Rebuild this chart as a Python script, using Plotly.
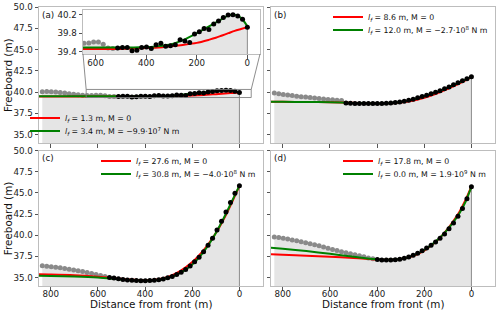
import plotly.graph_objects as go

# ---------------- data ----------------
dist = [0, 19, 38, 57, 76, 95, 114, 133, 152, 171, 190, 209, 228, 247, 266, 285,
        304, 323, 342, 361, 380, 399, 418, 437, 456, 475, 494, 513, 532, 551, 570,
        589, 608, 627, 646, 665, 684, 703, 722, 741, 760, 779, 798, 817, 836]

fb_a = [39.93, 40.10, 40.17, 40.20, 40.19, 40.14, 40.06, 40.00, 39.88, 39.90, 39.83,
        39.78, 39.60, 39.63, 39.66, 39.55, 39.53, 39.52, 39.58, 39.55, 39.47, 39.50,
        39.49, 39.43, 39.42, 39.49, 39.49, 39.48, 39.47, 39.48, 39.56, 39.61, 39.61,
        39.59, 39.58, 39.62, 39.67, 39.73, 39.80, 39.87, 39.94, 39.99, 40.03, 40.05, 40.04]
fb_b = [41.78, 41.55, 41.32, 41.08, 40.85, 40.60, 40.38, 40.15, 39.96, 39.78, 39.62,
        39.47, 39.32, 39.16, 39.03, 38.92, 38.83, 38.76, 38.71, 38.68, 38.66, 38.65,
        38.64, 38.64, 38.64, 38.65, 38.66, 38.68, 38.72, 38.99, 39.03, 39.08, 39.13,
        39.18, 39.25, 39.30, 39.35, 39.40, 39.45, 39.50, 39.58, 39.64, 39.72, 39.80, 39.87]
fb_c = [45.85, 44.95, 43.85, 42.75, 41.65, 40.60, 39.65, 38.80, 38.05, 37.40, 36.85,
        36.35, 35.95, 35.62, 35.35, 35.13, 34.96, 34.84, 34.75, 34.68, 34.64, 34.62,
        34.62, 34.64, 34.67, 34.72, 34.78, 34.86, 34.94, 35.00, 35.12, 35.24, 35.36,
        35.48, 35.59, 35.70, 35.80, 35.90, 35.99, 36.08, 36.15, 36.22, 36.28, 36.34, 36.38]
fb_d = [45.73, 44.30, 43.15, 42.25, 41.45, 40.75, 40.15, 39.65, 39.20, 38.82, 38.48,
        38.15, 37.88, 37.62, 37.42, 37.27, 37.16, 37.10, 37.07, 37.06, 37.08, 37.12,
        37.22, 37.32, 37.44, 37.56, 37.68, 37.80, 37.92, 38.05, 38.18, 38.32, 38.46,
        38.60, 38.74, 38.88, 39.00, 39.12, 39.23, 39.34, 39.44, 39.54, 39.63, 39.72, 39.80]

# furthest distance of the points used in the fit (black), beyond: grey
fit_limit_a, fit_limit_b, fit_limit_c, fit_limit_d = 513, 532, 551, 399

fit_dist = [850, 800, 700, 600, 500, 450, 400, 350, 300, 250, 200, 150, 125, 100, 75, 50, 25, 0]
red_a = [39.46, 39.46, 39.46, 39.46, 39.46, 39.47, 39.48, 39.49, 39.52, 39.55, 39.59,
         39.66, 39.70, 39.75, 39.80, 39.85, 39.89, 39.93]
green_a = [39.49, 39.49, 39.49, 39.49, 39.49, 39.49, 39.50, 39.52, 39.56, 39.66, 39.80,
           39.95, 40.03, 40.11, 40.18, 40.20, 40.13, 39.95]
red_b = [38.84, 38.84, 38.83, 38.80, 38.73, 38.68, 38.66, 38.67, 38.75, 38.97, 39.33,
         39.80, 40.07, 40.36, 40.68, 41.02, 41.38, 41.75]
green_b = [38.84, 38.84, 38.83, 38.80, 38.72, 38.67, 38.65, 38.69, 38.82, 39.10, 39.49,
           39.97, 40.24, 40.52, 40.82, 41.13, 41.46, 41.80]
red_c = [35.38, 35.36, 35.28, 35.10, 34.85, 34.74, 34.68, 34.78, 35.10, 35.78, 36.82,
         38.30, 39.22, 40.25, 41.45, 42.80, 44.28, 45.80]
green_c = [35.20, 35.18, 35.12, 35.00, 34.76, 34.67, 34.63, 34.72, 34.97, 35.55, 36.55,
           38.10, 39.10, 40.25, 41.55, 42.95, 44.40, 45.85]
red_d = [37.74, 37.68, 37.58, 37.45, 37.30, 37.22, 37.14, 37.10, 37.20, 37.52, 38.18,
         39.25, 39.95, 40.78, 41.72, 42.80, 44.15, 45.75]
green_d = [38.53, 38.40, 38.12, 37.80, 37.45, 37.28, 37.15, 37.09, 37.18, 37.55, 38.25,
           39.30, 39.95, 40.72, 41.60, 42.62, 43.95, 45.70]

LF = "<i>l</i><sub><i>f</i></sub>"
red_names = [LF + " = 1.3 m, M = 0", LF + " = 8.6 m, M = 0",
             LF + " = 27.6 m, M = 0", LF + " = 17.8 m, M = 0"]
green_names = [LF + " = 3.4 m, M = \u22129.9\u00b710<sup>7</sup> N m",
               LF + " = 12.0 m, M = \u22122.7\u00b710<sup>8</sup> N m",
               LF + " = 30.8 m, M = \u22124.0\u00b710<sup>8</sup> N m",
               LF + " = 0.0 m, M = 1.9\u00b710<sup>9</sup> N m"]
panel_labels = ["(a)", "(b)", "(c)", "(d)"]
x_title = "Distance from front (m)"
y_title = "Freeboard (m)"

y_ticks = [35, 37.5, 40, 42.5, 45, 47.5, 50]
y_ticktext = ["35.0", "37.5", "40.0", "42.5", "45.0", "47.5", "50.0"]
x_ticks = [800, 600, 400, 200, 0]
inset_yticks = [39.4, 39.8, 40.2]
inset_yticktext = ["39.4", "39.8", "40.2"]
inset_xticks = [600, 400, 200, 0]

Y_RANGE = [34, 50]
X_RANGE = [850, -100]
INSET_X = [650, -50]
INSET_Y = [39.35, 40.3]

# ---------------- figure ----------------
FONT = "DejaVu Sans"
RED = "#ff0000"
GREEN = "#008000"
fig = go.Figure()


def add_panel(xa, ya, fb, limit, red, green, rname, gname, leg_r, leg_g, show_legend=True):
    fig.add_trace(go.Scatter(x=dist, y=fb, mode="lines", line=dict(width=0),
                             fill="tozeroy", fillcolor="#e5e5e5", hoverinfo="skip",
                             showlegend=False, xaxis=xa, yaxis=ya))
    fig.add_trace(go.Scatter(x=[dist[0], dist[0]], y=[fb[0], Y_RANGE[0] - 5], mode="lines",
                             line=dict(color="#8c8c8c", width=1), showlegend=False,
                             hoverinfo="skip", xaxis=xa, yaxis=ya))
    gx = [d for d in dist if d > limit]
    gy = [v for d, v in zip(dist, fb) if d > limit]
    bx = [d for d in dist if d <= limit]
    by = [v for d, v in zip(dist, fb) if d <= limit]
    fig.add_trace(go.Scatter(x=gx, y=gy, mode="markers", marker=dict(color="#8a8a8a", size=5),
                             showlegend=False, xaxis=xa, yaxis=ya))
    fig.add_trace(go.Scatter(x=fit_dist, y=red, mode="lines", name=rname,
                             line=dict(color=RED, width=2, shape="spline", smoothing=0.8),
                             showlegend=show_legend, legend=leg_r, xaxis=xa, yaxis=ya))
    fig.add_trace(go.Scatter(x=fit_dist, y=green, mode="lines", name=gname,
                             line=dict(color=GREEN, width=2, shape="spline", smoothing=0.8),
                             showlegend=show_legend, legend=leg_g, xaxis=xa, yaxis=ya))
    fig.add_trace(go.Scatter(x=bx, y=by, mode="markers", marker=dict(color="black", size=5),
                             showlegend=False, xaxis=xa, yaxis=ya))


add_panel("x", "y", fb_a, fit_limit_a, red_a, green_a, red_names[0], green_names[0], "legend", "legend2")
add_panel("x2", "y2", fb_b, fit_limit_b, red_b, green_b, red_names[1], green_names[1], "legend3", "legend4")
add_panel("x3", "y3", fb_c, fit_limit_c, red_c, green_c, red_names[2], green_names[2], "legend5", "legend6")
add_panel("x4", "y4", fb_d, fit_limit_d, red_d, green_d, red_names[3], green_names[3], "legend7", "legend8")
# inset of panel (a)
add_panel("x5", "y5", fb_a, fit_limit_a, red_a, green_a, red_names[0], green_names[0], "legend", "legend2",
          show_legend=False)

W, H = 500, 313
ML, MR, MT, MB = 39, 5, 7, 27
PW, PH = W - ML - MR, H - MT - MB

col1 = [0, 224 / PW]
col2 = [232 / PW, 1]
row1 = [(MT + PH - 143) / PH, 1]
row2 = [0, (MT + PH - 150.5) / PH]
inset_x = [(83 - ML) / PW, (260 - ML) / PW]
inset_y = [(MT + PH - 54) / PH, (MT + PH - 10) / PH]

FRAME = "#bdbdbd"
tickfont = dict(family=FONT, size=8.7, color="#222")
common = dict(showline=True, mirror=True, linecolor=FRAME, linewidth=1, ticks="outside",
              ticklen=3.5, tickwidth=1, tickcolor="#555", showgrid=False, zeroline=False,
              tickfont=tickfont, automargin=False)


def xax(domain, anchor, labels):
    return dict(common, domain=domain, anchor=anchor, range=X_RANGE, tickmode="array",
                tickvals=x_ticks, showticklabels=labels, ticklabelstandoff=-4)


def yax(domain, anchor, labels):
    return dict(common, domain=domain, anchor=anchor, range=Y_RANGE, tickmode="array",
                tickvals=y_ticks, ticktext=y_ticktext, showticklabels=labels)


layout = dict(
    width=W, height=H, margin=dict(l=ML, r=MR, t=MT, b=MB, autoexpand=False),
    paper_bgcolor="white", plot_bgcolor="white",
    font=dict(family=FONT, color="#111"),
    xaxis=xax(col1, "y", False), yaxis=yax(row1, "x", True),
    xaxis2=xax(col2, "y2", False), yaxis2=yax(row1, "x2", False),
    xaxis3=xax(col1, "y3", True), yaxis3=yax(row2, "x3", True),
    xaxis4=xax(col2, "y4", True), yaxis4=yax(row2, "x4", False),
    xaxis5=dict(common, domain=inset_x, anchor="y5", range=INSET_X, tickmode="array",
                tickvals=inset_xticks, ticklabelstandoff=-3),
    yaxis5=dict(common, domain=inset_y, anchor="x5", range=INSET_Y, tickmode="array",
                tickvals=inset_yticks, ticktext=inset_yticktext),
)

# legends: one entry each, placed at the row positions (text start x, row centre y)
leg_font = dict(family=FONT, size=7.8, color="#111")
leg_rows = {
    "legend": (66, 118), "legend2": (66, 131),
    "legend3": (369, 17), "legend4": (369, 30),
    "legend5": (137, 161), "legend6": (137, 174),
    "legend7": (379, 161), "legend8": (379, 174),
}
for key, (tx, ty) in leg_rows.items():
    layout[key] = dict(x=(tx - 41 - ML) / PW, y=(MT + PH - ty) / PH, xanchor="left", yanchor="middle",
                       bgcolor="rgba(0,0,0,0)", borderwidth=0, font=leg_font)

fig.update_layout(**layout)

# panel labels
for lab, xr, yr in zip(panel_labels, ["x", "x2", "x3", "x4"], ["y", "y2", "y3", "y4"]):
    fig.add_annotation(text=lab, xref=xr + " domain", yref=yr + " domain", x=0.005, y=0.995,
                       xanchor="left", yanchor="top", showarrow=False,
                       font=dict(family=FONT, size=8.7, color="#111"))

# axis titles
title_font = dict(family=FONT, size=10.4, color="#111")
for xr in ["x3", "x4"]:
    fig.add_annotation(text=x_title, xref=xr + " domain", yref="paper", x=0.5,
                       y=(MT + PH - 304) / PH, xanchor="center", yanchor="middle",
                       showarrow=False, font=title_font)
for yr in ["y", "y3"]:
    fig.add_annotation(text=y_title, xref="paper", yref=yr + " domain", x=(8 - ML) / PW, y=0.5,
                       xanchor="center", yanchor="middle", textangle=-90,
                       showarrow=False, font=title_font)

# inset indicator rectangle and connectors
fig.add_shape(type="rect", xref="x", yref="y", x0=INSET_X[0], x1=INSET_X[1], y0=INSET_Y[0], y1=INSET_Y[1],
              line=dict(color="#808080", width=0.9))


def paper_to_main_x(px):
    f = (px - col1[0]) / (col1[1] - col1[0])
    return X_RANGE[0] + f * (X_RANGE[1] - X_RANGE[0])


def paper_to_main_y(py):
    f = (py - row1[0]) / (row1[1] - row1[0])
    return Y_RANGE[0] + f * (Y_RANGE[1] - Y_RANGE[0])


ib = paper_to_main_y(inset_y[0])
for corner_px, rect_x in [(inset_x[0], INSET_X[0]), (inset_x[1], INSET_X[1])]:
    fig.add_shape(type="line", xref="x", yref="y", x0=paper_to_main_x(corner_px), y0=ib,
                  x1=rect_x, y1=INSET_Y[1], line=dict(color="#808080", width=0.9))

fig.write_html("out.html", config={"displayModeBar": False},
               post_script="document.body.style.margin='0';document.body.style.overflow='hidden';")
